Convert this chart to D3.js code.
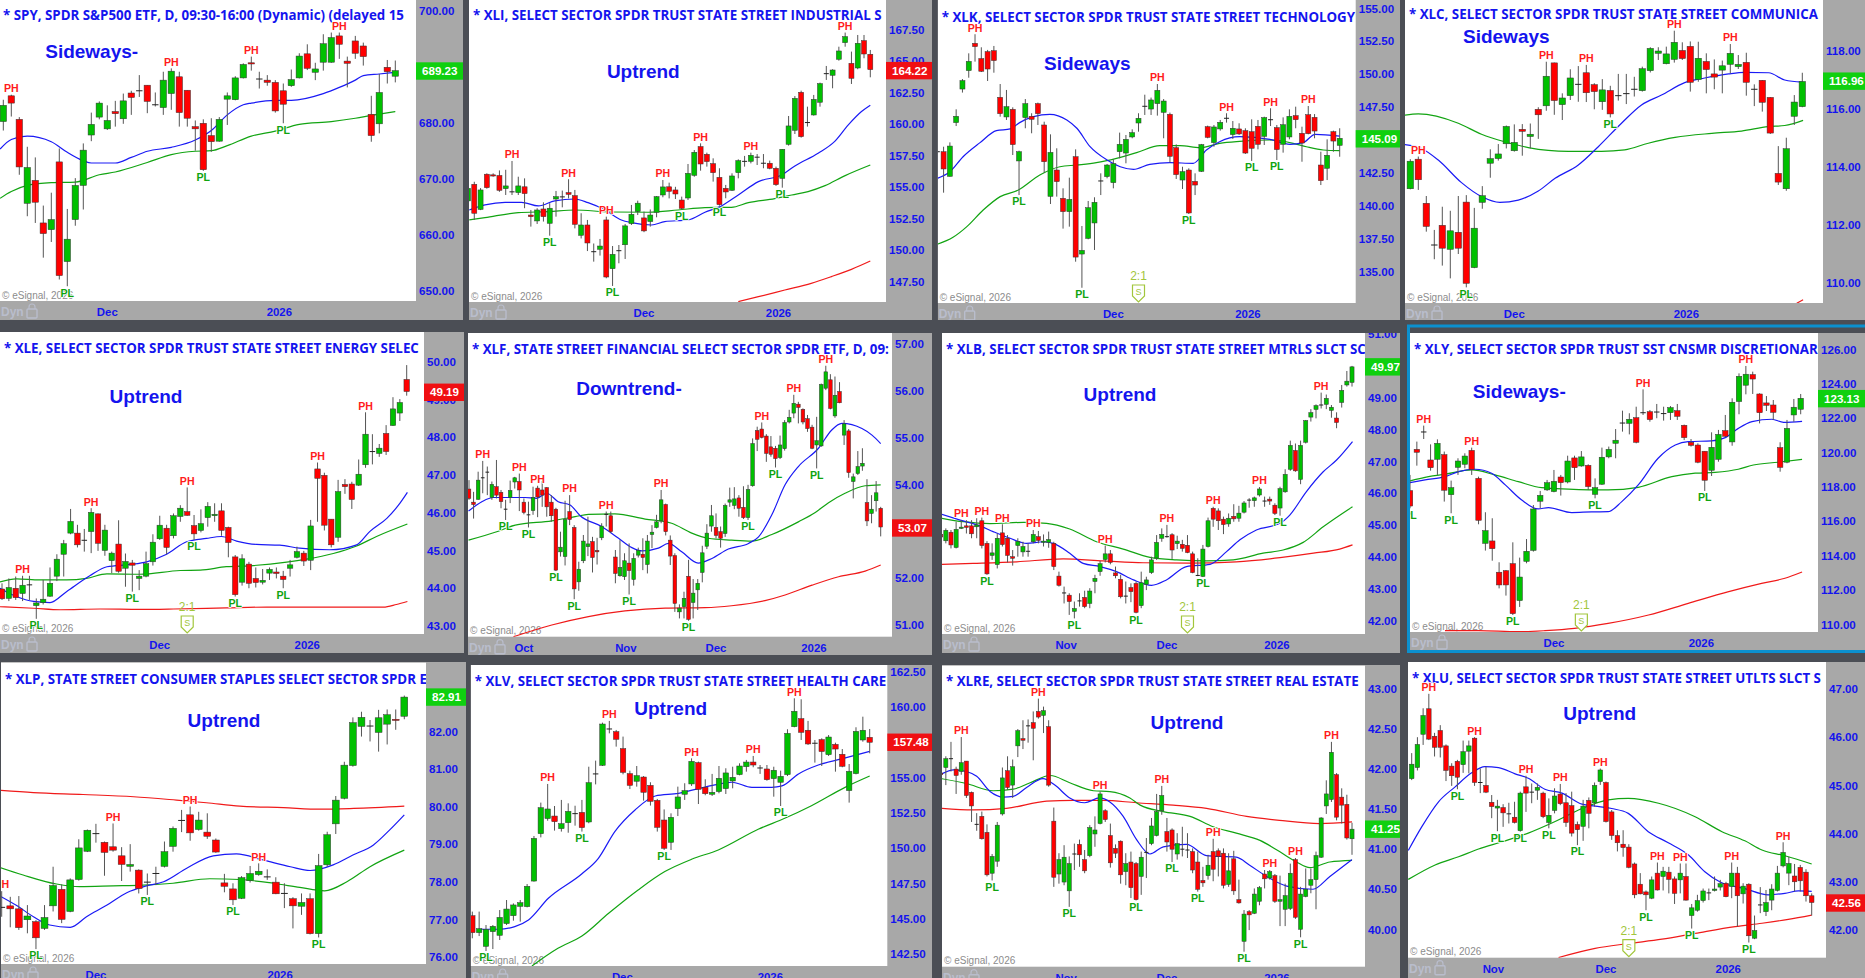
<!DOCTYPE html>
<html><head><meta charset="utf-8">
<style>html,body{margin:0;padding:0;background:#4b4e55;overflow:hidden}svg{display:block}</style>
<script src="https://cdn.jsdelivr.net/npm/d3@7"></script></head><body><svg id="c" width="1865" height="978"></svg>
<script>
// Every candle row is [open, high, low, close]
const spyCandles=[[680.2,684.1,678.6,683.1],[684.8,685,681.1,683.5],[680.6,681,670.7,672.1],[665.6,675.7,663.3,672],[669.7,673.8,662.1,665.8],[662.1,665.2,655.9,660.2],[660.9,667.5,658.7,662.7],[673,675.4,652,652.7],[655.2,664.6,650.8,659.2],[662.7,670.1,661.6,668.8],[668.8,676.3,664.5,675.1],[677.8,681.8,676.7,679.7],[681,683.8,680.6,683.5],[678.9,683.1,678.7,680.4],[682,683.9,679.3,681.6],[680.7,685.2,679.8,683.9],[685.3,685.7,681.4,684.5],[685.7,688.5,684.6,685.7],[686.7,686.7,681.7,683.8],[683.2,685.4,682.9,683.2],[682.7,689.1,681.4,687.6],[685.2,689.7,682.3,689.2],[688.2,689.1,679.3,681.8],[685.8,685.8,679.3,680.8],[679.3,680.4,675,678.9],[679.9,680.6,671.4,671.6],[677.7,680.8,674.8,676.6],[676.7,681,676.6,680.6],[684.2,685.4,679.6,684.8],[684.1,688.3,684,688],[688,690.6,687.9,690.4],[690.7,691.8,689.3,690.5],[687.8,689.1,686.1,687.8],[687.6,688.5,686.6,687.2],[687.2,687.6,681.8,682.1],[685.7,687,679.9,683.3],[686.6,689.5,686.4,687.7],[688,692.4,687.9,691.9],[692.3,694,689.4,689.7],[689,690.7,687.6,689.6],[690.8,695.8,689.3,694.1],[690.8,696.1,690.7,695.2],[695.5,696.1,691.4,694],[691,691.8,686.3,690.6],[694.6,695.5,691.4,692.4],[693.7,694.3,690.2,691.8],[681.5,684.8,676.6,677.7],[679.8,688.7,678.1,685.4],[689.9,691.2,687,689.1],[688.3,691.1,687.2,689.3]];
const spyPH=[1,21,31,42],spyPL=[8,25,35];
const spyBlue=[[-.4,675.3],[1,677],[3,677.6],[6,676.6],[7.9,674.8],[10,673.2],[11,672.8],[14,672.8],[16,673.8],[18,674.9],[21,675.6],[24,676.9],[26,678.6],[28,681.4],[30,683.2],[31,683.5],[34,684],[36,684],[40,685.2],[42,686.3],[44,687.6],[45,688.4],[47,688.7],[49,689]];
const spyGreen=[[-.4,666.5],[1,667.7],[3,668.8],[6,669.3],[9,669.4],[12,670.7],[14,671.2],[18,672.9],[21,674.3],[24,674.9],[26,675],[28,675.9],[31,677.6],[34,678.5],[37,679.7],[41,680.2],[44,680.8],[46,681.3],[49,682]];
const xliCandles=[[153.88,154.95,153.75,154.88],[155.2,155.4,152.37,152.9],[153.2,154.9,153.15,154.75],[156,156.07,154.85,154.93],[155.95,156.07,155.8,155.9],[155.9,156.3,154.6,154.72],[154.85,156.35,154.35,155.07],[154.6,157.05,154.35,154.6],[154.54,155.8,154.35,155.07],[155,155.67,153.3,154.46],[152.76,153.16,151.84,152.63],[152.29,153.3,152.05,153.16],[153.24,153.77,152.24,152.63],[152.1,153.7,151.12,153.3],[154.03,154.67,152.63,154.22],[154.2,154.7,153.37,154.2],[154.54,155.6,154.08,154.4],[154.3,154.75,151.7,152.02],[151.15,152.9,150.9,151.97],[151.97,152.37,149.9,150.54],[149.85,150.5,149.06,149.85],[150.04,150.86,149.54,150.3],[152.37,152.63,147.74,147.84],[148.5,150.3,147.13,149.64],[149.93,150.38,148.93,149.93],[150.4,152.05,149.27,151.9],[152.08,153.56,151.97,152.82],[153.03,153.9,152.76,153.7],[152.53,153.03,151.4,151.5],[152.24,153.2,151.84,152.76],[152.98,154.27,152.58,154.22],[154.35,155.54,154.17,154.99],[155,155.33,154.08,154.64],[154.75,155,154.03,154.43],[153.95,154.22,153.2,153.29],[154.11,156.81,153.95,156.07],[155.91,157.92,155.8,157.74],[158.19,158.45,156.28,156.81],[157.58,157.71,156.6,157],[156.84,157.26,155.41,156.12],[155.75,156.47,153.5,153.58],[154.88,155.15,154.09,154.59],[154.72,156.07,154.67,155.86],[156.12,157.18,155.67,157.08],[157.02,157.45,156.6,157.02],[157.02,157.71,156.86,157.5],[157.35,157.6,156.73,157.35],[156.87,157.6,156.47,156.87],[156.87,157.08,156.39,156.47],[156.47,156.6,155.07,155.17],[155.67,158,154.93,157.98],[158.37,160.62,158.27,159.83],[159.48,162.2,159.19,162.02],[162.5,162.63,158.9,158.98],[160.1,161.36,159.78,160.1],[160.7,162.29,160.65,161.94],[161.71,163.27,161.36,163.19],[163.98,164.59,163.48,163.98],[163.85,164.33,162.82,164.27],[165.12,166.12,165.01,165.78],[166.44,167.24,166.12,166.92],[164.8,165.73,163.16,163.61],[164.43,167.05,164.33,166.39],[166.6,167.05,165.2,165.54],[165.52,165.86,163.69,164.3]];
const xliPH=[7,16,22,31,37,45,60],xliPL=[13,23,34,40,50];
const xliBlue=[[.2,153.16],[2.7,153.56],[5.9,153.77],[8.5,153.77],[11.2,153.48],[13.8,153.88],[17,154.03],[19.1,153.74],[21.8,153.16],[24.4,152.37],[26,152.16],[29.2,151.97],[31.3,152.24],[35,152.37],[37.7,152.98],[40.3,153.48],[43,154.35],[46.2,155.41],[49.9,155.94],[52,156.65],[55.7,157.66],[58.3,158.58],[60.5,159.91],[62.6,160.97],[64,161.47]];
const xliGreen=[[.2,152.37],[2.7,152.55],[8,152.95],[12.8,153.03],[17,153.16],[22.8,153],[28.7,152.98],[33.4,153.16],[37.7,153.35],[41.9,153.37],[44.6,153.74],[48.8,154.06],[51.5,154.35],[54.1,154.62],[56.8,155.09],[60,155.89],[64,156.73]];
const xliRed=[[43,145.89],[46.2,146.28],[50.4,146.81],[54.6,147.34],[57.8,147.87],[61,148.45],[64,149.11]];
const xlkCandles=[[144.11,144.2,144,144.11],[144.11,144.49,141,142.8],[142.24,144.82,142.22,144.54],[146.32,147.33,146.06,146.8],[148.87,149.63,148.6,149.51],[150.27,151.58,149.73,150.97],[152.34,153.03,150.95,152.09],[151.18,152.04,150.16,150.22],[151.71,151.84,149.48,150.39],[151.78,152.14,150.11,151.03],[148.24,149.25,146.77,147],[146.75,148.8,146.52,147.53],[147.33,147.48,143.86,144.65],[143.41,144.19,140.82,144.11],[146.7,148.11,145.89,147.76],[146.8,147.03,145.51,146.57],[147.76,147.84,146.14,147],[146.14,146.39,142.52,143.35],[140.72,145.43,140.14,144.06],[142.72,144.37,140.7,141.84],[140.57,141.33,138.27,139.56],[139.56,142.14,138.42,140.49],[143.73,144.29,135.76,136.11],[136.34,138.47,133.78,136.62],[137.53,140.37,137.46,139.86],[138.7,140.65,136.65,140.27],[141.89,142.47,140.82,141.89],[142.22,143.18,142.09,143.1],[141.76,143.53,141.33,143.2],[144.11,145.56,143.61,144.67],[144.01,145.38,143.23,145.05],[145.23,145.81,145.13,145.56],[146.29,147.03,145.63,146.65],[147.56,148.44,146.9,147.56],[147.35,148.22,146.9,148.04],[147.76,149.25,146.85,148.77],[147.1,148.11,145.13,147.96],[146.95,147.08,143.28,143.76],[144.42,144.67,142.04,142.37],[141.96,142.97,141.28,142.6],[142.72,142.85,139.38,139.46],[141.86,142.47,140.82,141.58],[142.62,144.7,142.57,144.65],[146.01,146.09,145.13,145.2],[144.8,146.14,144.49,145.99],[145.84,146.52,145.71,146.34],[146.65,147.03,146.32,146.65],[145.41,146.44,145.08,145.89],[145.84,146.27,145.38,145.46],[145.71,145.89,143.94,144.01],[145.63,146.57,143.41,144.37],[146.04,146.52,144.29,144.67],[145.28,146.77,144.62,146.7],[146.54,147.41,146.06,146.54],[145.94,146.14,143.48,144.27],[144.67,146.72,144.04,146.16],[145.23,147.33,145.05,146.8],[146.85,147.53,145.89,146.54],[145.51,146.01,143.35,144.77],[146.92,147.58,145.43,145.48],[146.72,146.97,145.13,145.68],[143.1,144.11,141.58,141.91],[142.85,145.05,141.96,143.84],[145.63,145.71,144.11,144.92],[144.59,145.89,143.73,145.13]];
const xlkPH=[6,35,46,53,59],xlkPL=[13,23,40,50,54];
const xlkBlue=[[0,142.09],[2,142.59],[4.1,143.73],[6.8,144.8],[9.4,145.71],[11.6,145.84],[13.1,146.32],[15.3,146.77],[17.9,146.95],[20.6,146.52],[22.2,145.89],[24.3,144.49],[27,143.48],[29.1,142.97],[31.2,142.77],[33.8,143.15],[37,143.28],[40.7,143.23],[42.8,144.24],[44.9,144.87],[48.1,145.25],[52.9,145.05],[56.1,144.67],[58.2,144.8],[60.1,145.43],[64,145.3]];
const xlkGreen=[[0,137.08],[2.5,137.61],[4.7,138.42],[7.3,139.68],[10,140.7],[12.9,141.2],[16.3,142.34],[19.5,142.97],[22.2,143.1],[25.3,143.28],[28.5,143.61],[31.7,144.04],[35.4,144.57],[38.6,144.57],[41.8,144.42],[44.9,144.75],[48.1,144.9],[52.9,145],[56.6,144.75],[58.7,144.49],[61.4,144.24],[64,144.19]];
const xlcCandles=[[113.25,114.27,113.23,114.2],[114.27,114.36,113.21,113.56],[112.75,113,111.77,111.95],[111.31,111.83,110.82,111.31],[111.99,112.63,110.6,111.2],[111.16,112.49,110.16,111.8],[111.75,113,111,111.2],[112.79,113.03,109.85,109.99],[110.53,112.59,110.51,111.89],[112.78,113.34,112.56,113.01],[114.13,114.61,113.63,114.29],[114.29,114.79,114.22,114.45],[114.8,115.43,114.64,115.4],[114.56,115.47,114.53,114.85],[115.3,115.48,114.39,115.23],[115.05,115.5,114.64,115.13],[115.99,116.06,114.97,115.8],[116.11,117.63,115.94,117.13],[117.59,117.6,115.8,116.29],[116.15,116.54,115.62,116.38],[116.46,117.37,116.31,117.07],[116.85,117.48,116.25,116.85],[117.25,117.52,116.24,116.56],[116.84,116.89,115.99,116.6],[116.25,117.03,115.97,116.66],[116.64,116.8,115.71,115.83],[116.46,117.21,116.29,116.46],[116.53,117.21,116.17,116.53],[116.68,117.11,116.43,116.68],[116.63,117.46,116.6,117.39],[117.32,118.13,117.26,118.09],[117.92,118.13,117.69,118],[117.56,118.15,117.54,117.9],[117.71,118.7,117.6,118.3],[118.02,118.3,117.69,117.74],[118.16,118.33,116.6,116.92],[117.02,118.32,116.94,117.75],[117.64,117.92,116.54,117.36],[117.21,117.71,116.68,117.1],[117.34,117.67,116.54,117.49],[117.54,118.24,117.23,117.92],[117.46,117.86,117.38,117.54],[117.61,117.94,116.46,116.92],[116.68,116.85,116.1,116.68],[116.99,117,115.91,116.23],[116.4,116.41,115.14,115.17],[113.78,114.72,113.38,113.48],[113.25,115.01,113.18,114.63],[115.75,116.48,115.45,116.24],[116.08,117.25,116.06,116.95]];
const xlcPH=[1,17,22,33,40],xlcPL=[7,25];
const xlcBlue=[[-.7,114.77],[1.4,114.64],[3.5,114.24],[6.4,113.46],[8.9,112.98],[11.2,112.78],[13.5,112.86],[16,113.17],[18.1,113.61],[21,114.07],[23.5,114.7],[26.4,115.51],[28.9,116.14],[31.4,116.48],[34.3,116.91],[36.8,117.07],[39.8,117.21],[41.8,117.26],[44.8,117.25],[46.8,117],[49,116.93]];
const xlcGreen=[[-.7,115.79],[1,115.83],[6,115.51],[8.9,115.13],[11.8,114.87],[14.75,114.67],[19.75,114.54],[23.9,114.54],[26.8,114.59],[29.75,114.82],[33.1,115.02],[37.7,115.16],[41.4,115.24],[44.75,115.39],[46.8,115.43],[49.1,115.61]];
const xlcRed=[[48.3,109.3],[49.1,109.42]];
const xleCandles=[[43.98,44.13,43.69,43.72],[43.73,44.26,43.66,44.02],[44,44.31,43.69,43.75],[43.86,44.33,43.66,44.08],[44.09,44.33,43.69,44.09],[43.54,43.73,43.19,43.61],[43.62,44.22,43.57,43.71],[43.79,44.55,43.77,44.13],[44.32,44.9,44.19,44.77],[44.9,45.28,44.31,45.18],[45.46,46.1,45.43,45.77],[45.46,45.68,45.08,45.15],[45.27,45.57,44.97,45.27],[45.5,46.12,44.93,46.01],[45.97,45.98,44.99,45.19],[45,45.68,44.86,45.54],[44.73,44.97,44.4,44.93],[45.17,45.8,44.41,44.45],[44.53,44.92,44.04,44.71],[44.67,44.75,43.91,44.61],[44.26,44.48,43.95,44.32],[44.32,44.97,44.29,44.65],[44.7,45.43,44.6,45.22],[45.31,45.92,45.28,45.67],[45.59,45.68,44.9,45.08],[45.39,45.98,45.32,45.92],[45.9,46.2,45.76,46.12],[46.03,46.67,45.92,45.93],[45.66,45.94,45.28,45.44],[45.53,46.09,45.48,45.71],[45.87,46.28,45.63,46.17],[45.92,46.25,45.76,45.96],[46.05,46.25,45.39,45.53],[45.61,45.63,44.82,45.21],[44.83,44.88,43.78,43.83],[44.16,44.9,44.07,44.78],[44.64,44.7,44,44.13],[44.26,44.55,44.02,44.15],[44.16,44.51,44.1,44.21],[44.4,44.55,44.22,44.5],[44.43,44.55,44.26,44.39],[44.32,44.46,44,44.23],[44.53,44.75,44.31,44.62],[44.82,45.1,44.79,44.97],[44.93,44.99,44.59,44.72],[44.74,45.81,44.48,45.65],[47.16,47.33,45.76,46.91],[46.99,47.06,45.53,45.67],[45.83,45.83,45.08,45.15],[45.35,46.87,45.23,46.56],[46.75,46.89,46.5,46.69],[46.76,46.82,46.1,46.35],[46.73,47.41,46.71,47.02],[47.27,48.66,47.19,48.08],[47.62,48.08,47.28,47.62],[47.57,47.82,47.48,47.71],[48.1,48.32,47.53,47.62],[48.31,49.06,48.3,48.75],[48.64,49.01,48.43,48.92],[49.53,49.91,49.1,49.21]];
const xlePH=[3,13,27,46,53],xlePL=[5,19,28,34,41];
const xleBlue=[[-.3,44],[2.1,43.78],[4.6,43.65],[7,43.62],[9.4,43.91],[12.8,44.33],[15.3,44.57],[18.7,44.63],[21.1,44.7],[24,44.9],[26.9,45.23],[29.8,45.32],[32,45.37],[34.2,45.25],[37.1,45.16],[40.5,45.14],[43.4,45.06],[47.8,45.02],[51.7,45.15],[53.6,45.5],[56.1,45.85],[57.8,46.2],[59.1,46.54]];
const xleGreen=[[-.3,44.17],[2.1,44.25],[5.5,44.22],[9.4,44.22],[12.3,44.26],[15.3,44.38],[20.1,44.37],[26,44.47],[28.9,44.48],[32.7,44.57],[36.6,44.6],[41.5,44.69],[44.4,44.77],[48.3,44.92],[51.7,45.12],[54.6,45.37],[59.1,45.7]];
const xleRed=[[-.3,43.51],[4.6,43.47],[8.5,43.43],[14.3,43.45],[20.1,43.44],[25,43.45],[32.7,43.48],[38.6,43.5],[46.8,43.5],[55.6,43.5],[57.5,43.57],[59.1,43.65]];
const xlfCandles=[[53.9,54.09,53.67,53.7],[53.62,53.84,53.27,53.57],[53.68,54.27,53.67,54.09],[54.14,54.5,53.81,54.14],[54.26,54.38,53.77,54.26],[53.72,54.06,53.67,54],[53.95,54.52,53.7,53.77],[53.83,53.88,53.49,53.63],[53.47,53.67,53.24,53.47],[53.72,54.08,53.6,53.87],[54.05,54.16,53.91,54.14],[54.06,54.23,53.43,53.88],[53.62,53.7,53.36,53.4],[53.35,53.63,53.08,53.35],[53.44,53.95,53.35,53.72],[53.92,53.97,53.3,53.73],[53.88,54.07,53.52,53.77],[53.93,53.94,53.31,53.52],[53.62,53.77,53.2,53.33],[53.47,53.5,52.15,52.17],[52.56,52.99,52.46,52.66],[52.46,53.65,52.27,53.25],[53.42,53.77,53.13,53.25],[53.08,53.13,51.55,51.77],[51.92,52.35,51.73,52.19],[52.37,52.92,52.32,52.79],[52.67,53.31,52.47,52.73],[52.78,52.88,52.12,52.44],[52.59,52.86,52.29,52.56],[52.86,53.17,52.81,53.11],[53.36,53.42,53.1,53.36],[53.33,53.42,52.96,52.99],[52.45,52.6,51.89,52.1],[52.05,52.81,52.03,52.23],[52.03,52.53,51.96,52.37],[52.32,52.74,51.65,52.16],[51.97,52.53,51.84,52.42],[52.49,52.65,52.44,52.59],[52.51,52.85,52.17,52.44],[52.29,52.92,52.1,52.79],[52.93,53.13,52.64,52.98],[53.08,53.35,53.06,53.2],[53.22,53.88,53.17,53.67],[53.57,53.59,52.91,52.99],[52.81,52.91,52.28,52.47],[52.48,52.53,51.28,51.46],[51.28,51.44,51.14,51.36],[51.39,51.71,51.14,51.57],[52.04,52.39,51.09,51.12],[51.48,51.98,51.14,51.68],[51.75,51.98,51.32,51.89],[52.12,52.69,51.91,52.54],[52.68,53.15,52.62,52.96],[53.11,53.56,52.99,53.33],[53.08,53.38,52.85,52.91],[52.99,53.1,52.65,52.85],[52.95,53.59,52.88,53.55],[53.62,53.93,53.52,53.67],[53.55,53.94,53.47,53.69],[53.71,53.77,53.31,53.49],[53.51,53.96,53.26,53.29],[53.29,53.99,53.24,53.89],[53.97,54.98,53.95,54.87],[55.15,55.23,54.71,54.96],[55.18,55.32,54.98,55],[55.03,55.07,54.48,54.66],[54.8,55.03,54.59,54.64],[54.77,54.82,54.36,54.55],[54.57,55.04,54.54,54.84],[54.76,55.37,54.72,55.32],[55.33,55.59,55.3,55.43],[55.52,55.91,55.41,55.73],[55.71,55.76,55.3,55.64],[55.6,55.62,55.28,55.33],[55.4,55.48,55.12,55.19],[55.22,55.27,54.75,54.77],[54.84,55.44,54.34,54.93],[54.82,56.15,54.8,56.13],[56.05,56.53,56.01,56.4],[56.23,56.35,55.6,55.62],[55.46,56.3,55.42,55.9],[55.98,56.18,55.73,55.74],[55.05,55.37,54.84,55.29],[55.14,55.18,54.14,54.25],[54.06,54.23,53.7,54.16],[54.23,54.71,54.2,54.38],[54.39,54.77,54.29,54.45],[53.61,54.11,53.11,53.22],[53.38,53.77,53.17,53.47],[53.65,54.07,53.42,53.82],[53.49,53.52,52.89,53.09]];
const xlfPH=[3,11,15,22,30,42,64,71,78],xlfPL=[8,13,19,23,35,48,61,67,76];
const xlfBlue=[[-.1,53.43],[2.8,53.63],[5.3,53.72],[8.6,53.72],[12.2,53.72],[14.8,53.7],[17,53.81],[19.5,53.63],[22.1,53.56],[24.3,53.33],[29,53.1],[32.7,52.85],[35.6,52.65],[37.8,52.58],[41.4,52.64],[43.6,52.74],[46.5,52.56],[50.1,52.32],[53.1,52.42],[56.7,52.62],[61.1,52.74],[63.3,52.88],[66.2,53.35],[69.1,53.99],[72,54.38],[76.4,54.77],[79.3,55.16],[81.5,55.3],[85.9,55.19],[88.1,55.05],[90,54.87]];
const xlfGreen=[[-.1,52.81],[6.4,53],[10.1,53.13],[18.1,53.22],[23.2,53.31],[26.1,53.36],[31.9,53.37],[38.5,53.26],[44.3,53.17],[48.7,52.96],[52.3,52.85],[57.4,52.81],[61.8,52.79],[66.2,52.93],[72,53.2],[75.7,53.4],[78.6,53.61],[82.2,53.81],[86.6,53.97],[90,53.99]];
const xlfRed=[[9.7,50.75],[18.1,51],[26.1,51.18],[34.1,51.3],[42.9,51.36],[51.6,51.37],[57.4,51.41],[64.7,51.52],[69.1,51.64],[75,51.85],[80.8,52.03],[86.6,52.15],[90,52.28]];
const xlbCandles=[[44.7,44.84,44.58,44.62],[44.5,44.89,44.42,44.83],[44.77,44.84,44.26,44.37],[44.29,45.1,44.26,44.86],[44.89,45.15,44.87,44.93],[44.97,45.15,44.73,44.92],[44.97,45.15,44.58,44.72],[44.94,45.21,44.58,45],[45.13,45.23,44.26,44.35],[44.42,44.49,43.43,43.46],[44.04,44.42,43.9,44.12],[43.75,44.73,43.63,44.58],[44.75,45.02,44.32,44.38],[44.58,44.68,43.82,44.04],[44,44.21,43.72,43.95],[44.35,44.58,44,44.48],[44.15,44.47,44,44.32],[44.17,44.42,44,44.17],[44.47,44.84,44.42,44.7],[44.63,44.81,44.42,44.51],[44.45,44.7,44.32,44.49],[44.45,44.79,44.28,44.54],[44.42,44.47,43.58,43.69],[43.39,43.53,43.06,43.1],[42.86,43.06,42.53,42.86],[42.79,42.85,42.17,42.59],[42.28,42.59,42.06,42.37],[42.61,42.85,42.43,42.61],[42.72,42.93,42.38,42.43],[42.53,43.01,42.38,42.92],[43.22,43.43,42.85,43.32],[43.53,43.87,43.4,43.78],[43.91,44.35,43.82,44.09],[44.09,44.21,43.76,43.82],[43.49,43.69,43.32,43.4],[43.29,43.43,42.69,42.74],[42.76,43.22,42.53,42.76],[43.03,43.16,42.57,42.9],[43.16,43.22,42.22,42.25],[42.46,43.53,42.38,43.18],[43.13,43.37,42.95,43.27],[43.5,44,43.46,43.9],[43.96,44.68,43.9,44.45],[44.58,44.89,44.47,44.7],[44.63,45,44.6,44.63],[44.69,44.74,43.93,44.21],[44.41,44.66,44.24,44.49],[44.39,44.53,44.16,44.26],[44.36,44.68,44.11,44.13],[44.09,44.16,43.48,43.5],[43.41,43.95,43.39,43.41],[43.38,44.37,43.36,44.24],[44.32,45.23,44.29,45.13],[45.52,45.57,44.94,45.18],[45.44,45.52,44.84,45.13],[45.18,45.26,44.71,45.01],[45.03,45.36,44.94,45.21],[45.27,45.65,45.1,45.19],[45.21,45.6,45.1,45.37],[45.4,45.75,45.36,45.69],[45.78,45.84,45.54,45.78],[45.76,45.89,45.57,45.85],[45.94,46.19,45.89,46.13],[45.75,45.89,45.57,45.75],[45.81,45.89,45.63,45.75],[45.62,45.68,45.31,45.36],[45.53,46.2,45.29,46.14],[46.04,46.75,46.01,46.59],[46.75,47.65,46.7,47.5],[47.34,47.56,46.67,46.7],[46.43,47.65,46.28,47.5],[47.6,48.3,47.56,48.28],[48.39,48.64,48.25,48.53],[48.63,48.79,48.35,48.75],[48.77,49.16,48.66,48.77],[48.79,49.1,48.64,48.98],[48.6,48.77,48.37,48.7],[48.36,48.54,48.04,48.22],[48.85,49.4,48.69,49.23],[49.4,49.84,49.35,49.52],[49.48,50,49.35,49.97]];
const xlbPH=[4,8,12,18,32,44,53,62,74],xlbPL=[9,26,38,51,66];
const xlbBlue=[[.2,45.33],[3.8,45.15],[7.6,44.97],[10.2,44.79],[13.5,44.58],[16.7,44.42],[20,44.47],[21.9,44.42],[25.1,44.11],[27.7,43.79],[31,43.69],[34.2,43.53],[37.5,43.27],[41,43.1],[43.9,43.27],[47.8,43.69],[52.4,43.76],[55.6,44.16],[58.2,44.53],[61.4,44.84],[66,45.05],[67.9,45.31],[71.1,46.04],[74.4,46.67],[77,47.04],[80.1,47.62]];
const xlbGreen=[[.2,45.21],[4.4,45.1],[9.6,45.04],[16.1,45.08],[20.6,45.05],[25.1,44.87],[30.3,44.47],[35.5,44.24],[40.7,43.98],[45.9,43.9],[51.7,43.87],[56.9,43.9],[62.7,44.11],[66.6,44.21],[70.5,44.45],[74.4,44.94],[80.1,45.57]];
const xlbRed=[[.2,43.76],[6.3,43.79],[14.8,43.84],[23.8,43.93],[31.6,43.87],[39.4,43.81],[48.5,43.8],[57.5,43.84],[66,43.97],[72.5,44.11],[77.6,44.24],[80.1,44.37]];
const xlyCandles=[[117.78,118.69,116.75,116.88],[120.18,120.63,119.23,120.01],[121.19,121.56,120.78,121.19],[119.56,120.47,118.94,119.11],[119.6,120.76,118.69,120.53],[119.87,120.05,117.14,117.8],[117.54,118.36,116.46,117.95],[119.13,119.66,118.69,119.5],[119.31,119.95,119.08,119.79],[120.12,120.28,118.69,119.02],[118.49,118.59,115.82,116.05],[114.71,116.52,114.29,115.45],[114.85,116.17,113.7,114.4],[113.03,113.61,112.09,112.29],[113.12,113.16,111.67,112.29],[113.53,114.77,110.54,110.62],[111.38,113.88,111.01,112.75],[113.66,114.96,113.55,114.25],[114.3,116.94,114.23,116.71],[117.16,117.76,116.75,117.5],[117.82,118.4,117.76,118.24],[117.72,118.98,117.68,118.32],[118.57,118.69,117.49,118.24],[118.28,119.81,118.2,119.5],[119.68,119.81,118.4,119.11],[119.21,120.08,119.17,119.74],[119.25,119.31,117.82,118.01],[117.56,118.49,117.33,117.95],[118.15,120.28,118.11,119.72],[119.74,120.34,119.66,120.18],[120.53,121.36,119.66,120.71],[121.71,122.43,121.21,121.71],[121.69,122.28,121.05,121.93],[122.02,122.66,120.53,120.59],[122.31,123.67,122.18,122.31],[122.37,122.47,121.79,121.91],[122.35,122.82,121.99,122.35],[122.26,122.66,121.85,122.26],[122.31,122.7,121.89,122.61],[122.43,122.82,121.89,122.1],[121.58,121.62,120.72,120.86],[120.59,120.78,120.34,120.41],[120.43,120.53,119.37,119.43],[120.07,120.08,117.76,118.38],[118.96,121.17,118.63,120.3],[119.6,121.31,119.46,121.05],[121.27,122.18,120.88,120.94],[120.61,123.15,120.39,122.92],[122.96,124.6,122.22,124.43],[123.91,125.03,123.38,124.55],[124.53,124.7,123.4,124.27],[123.4,123.44,121.69,122.31],[122.88,123.28,122.41,122.74],[122.76,123.05,121.89,122.33],[120.28,120.59,118.88,119.13],[119.43,121.89,119.37,121.4],[122.18,123.11,121.79,122.63],[122.51,123.4,122.22,123.15]];
const xlyPH=[2,9,34,49],xlyPL=[0,6,15,27,43];
const xlyBlue=[[0,118.24],[2.2,118.4],[5.1,118.59],[7.1,118.88],[9.5,119.02],[11.9,118.79],[13.9,118.11],[16.3,117.23],[18.7,116.71],[20.2,116.79],[23.6,116.5],[26.5,116.54],[28.9,116.55],[30.9,117.14],[33.3,118.11],[36.2,119.66],[38.7,120.43],[40.6,120.63],[44,120.67],[46,120.86],[47.9,121.4],[49.9,121.79],[52.8,121.93],[54.5,121.75],[57.2,121.81]];
const xlyGreen=[[0,118.34],[2.7,118.59],[5.1,118.73],[9,118.98],[12.4,118.69],[15.8,118.3],[19.2,117.95],[23.1,117.87],[28.9,117.82],[33.3,117.97],[38.2,118.59],[41.6,118.79],[44.5,118.84],[47.9,119.02],[50.1,119.27],[53.7,119.43],[57.2,119.6]];
const xlyRed=[[5.1,109.63],[10,109.63],[15.8,109.57],[19.7,109.63],[24,109.76],[28.9,110.05],[34.8,110.54],[40.6,111.22],[46.5,111.9],[51.3,112.38],[54.7,112.68],[57.2,113.04]];
const xlpCandles=[[77.32,77.75,77.07,77.32],[77.36,77.6,76.79,77.28],[77.28,77.62,76.72,76.78],[76.99,77.38,76.63,77.09],[76.94,76.98,76.21,76.51],[76.76,77.38,76.72,77.05],[77.36,78.4,77.21,77.9],[77.8,77.93,76.9,77],[77.21,78.09,77.19,78.05],[78.06,79.13,78.03,78.9],[78.81,79.39,78.79,79.37],[79.28,79.54,79.04,79.28],[79.05,79.07,78.16,78.78],[78.93,79.55,78.8,78.84],[78.69,78.92,78.02,78.46],[78.41,79,78.27,78.46],[78.31,78.33,77.69,77.82],[77.99,78.22,77.65,77.99],[78.22,78.4,77.91,78.22],[78.41,79.07,78.38,78.8],[78.94,79.47,78.8,79.42],[79.63,79.91,79.32,79.63],[79.78,80,79.09,79.3],[79.39,79.86,79.36,79.64],[79.32,79.82,79.14,79.21],[79.11,79.15,78.77,78.79],[77.97,78.21,77.72,77.88],[77.81,77.96,77.38,77.52],[77.56,78.15,77.54,78.11],[78.03,78.42,77.98,78.22],[78.19,78.49,78.16,78.28],[78.13,78.33,78.05,78.13],[77.99,78.12,77.67,77.68],[77.69,77.96,77.3,77.69],[77.55,77.59,76.76,77.36],[77.35,77.69,77.12,77.45],[77.55,77.69,76.6,76.62],[76.62,78.74,76.52,78.43],[78.45,79.33,78.4,79.25],[79.54,80.28,79.27,80.17],[80.22,81.19,80.19,81.1],[81.09,82.37,81.06,82.23],[82.13,82.52,81.86,82.37],[82.14,82.3,81.73,82.14],[81.97,82.57,81.46,82.36],[82.19,82.58,81.65,82.44],[82.32,82.58,82.04,82.3],[82.4,82.95,82.32,82.91]];
const xlpPH=[0,13,22,30],xlpPL=[4,17,27,37];
const xlpBlue=[[-.2,77.62],[1.8,77.36],[3.7,77.07],[5.6,76.85],[8,76.79],[9.9,77.07],[12.3,77.38],[14.6,77.71],[16.9,77.89],[18.9,78],[21.6,78.36],[24.7,78.69],[27.4,78.74],[30.5,78.58],[33.7,78.4],[36,78.3],[38.7,78.45],[41,78.71],[43.4,78.98],[45.3,79.38],[47,79.78]];
const xlpGreen=[[-.2,78.38],[2.5,78.18],[6.4,77.94],[9.1,77.87],[13,77.89],[16.5,77.91],[20,77.96],[24.3,78.08],[27.8,78.06],[31.7,77.96],[34.8,77.85],[37.7,77.76],[40.3,78],[43,78.4],[47,78.84]];
const xlpRed=[[-.2,80.43],[3.7,80.37],[9.5,80.32],[15.4,80.26],[20.4,80.17],[23.9,80.1],[27.8,80.01],[32.9,79.97],[37.2,79.93],[41.1,79.95],[47,80.01]];
const xlvCandles=[[145.21,145.5,143.61,144.01],[144.01,145.5,143.77,144.29],[143.04,144.55,142.71,144.25],[144.08,144.55,142.85,144.46],[143.82,145.61,143.49,145.09],[144.65,146.32,144.55,145.68],[145.21,146.08,144.86,145.97],[145.87,146.32,144.79,146.13],[145.85,147.45,145.8,147.29],[147.66,150.85,147.62,150.68],[151.01,153.21,150.75,152.85],[152.08,154.53,151.93,152.76],[152.26,152.97,151.23,151.86],[151.37,153.4,151.16,151.72],[151.79,153.16,151.08,152.59],[152.43,152.99,151.58,152.43],[152.52,153.4,151.16,151.44],[151.84,155.75,151.75,154.62],[155.24,156.18,154.5,155.24],[155.85,158.87,155.8,158.77],[158.42,158.99,158.11,158.42],[158.23,158.35,157.17,157.69],[157.03,157.88,155.21,155.35],[155.26,155.47,154.17,154.43],[154.72,155.8,154.34,155.12],[155.02,155.09,153.35,153.94],[154.43,154.65,153,153.3],[153.37,153.47,151.16,151.46],[151.98,152.73,149.86,149.98],[150.4,152.45,149.86,152.17],[152.78,154.34,152.26,153.61],[153.8,154.58,153.4,154.06],[154.53,156.34,154.39,156.13],[156.04,156.11,153.11,154.15],[154.29,154.86,153.73,153.84],[153.8,155.24,153.68,153.94],[153.99,155.8,153.87,154.93],[154.2,155.64,153.82,155.31],[154.74,155.75,154.22,155],[155.19,155.99,155.14,155.8],[155.75,156.23,155.4,156.08],[156.08,156.51,155.71,155.87],[155.66,155.87,155.24,155.66],[155.59,155.87,154.76,154.83],[154.91,155.75,153.63,155.5],[154.65,155.47,152.97,155.07],[155.19,158.4,155.09,158.11],[158.58,160.59,158.54,159.67],[159.15,160.52,157.64,158.18],[158.33,158.99,157.29,157.36],[157.41,157.64,156.04,157.41],[157.67,157.76,155.8,156.82],[156.6,157.99,156.51,157.85],[157.33,157.45,155.4,157],[156.63,157,155.71,155.78],[154.06,155.94,153.21,155.42],[155.26,158.54,155.21,158.25],[157.64,159.29,157.52,158.33],[157.83,158.42,156.7,157.48]];
const xlvPH=[11,20,32,41,47],xlvPL=[2,16,28,45];
const xlvBlue=[[.9,144.25],[3.8,144.25],[6.2,144.44],[8.2,144.91],[11.1,146.44],[15.96,148.16],[18.4,149.27],[20.8,151.16],[23.75,152.69],[26.7,153.68],[30.1,153.87],[33,154.2],[35.4,154.46],[37.9,154.65],[40.8,154.29],[43.7,154.29],[45.2,154.39],[47.6,155.24],[50.5,155.87],[53.9,156.3],[58,156.84]];
const xlvGreen=[[8.7,141.65],[12.5,142.9],[16,143.77],[19.9,145.38],[24.2,147.03],[28.1,148.33],[32,149.2],[35.9,149.86],[41.8,151.34],[45.6,152.1],[49.5,152.99],[54.4,154.29],[58,155.09]];
const xlreCandles=[[41.95,41.97,41.92,41.93],[42.02,42.16,41.8,42.13],[42.13,42.34,41.97,42.13],[42,42.03,41.69,41.92],[41.97,42.4,41.93,42.08],[42.1,42.1,41.64,41.67],[41.71,41.72,41.34,41.54],[41.31,41.45,41.23,41.31],[41.41,41.47,41.12,41.13],[41.21,41.31,40.66,40.68],[40.7,40.94,40.61,40.91],[40.85,41.34,40.78,41.3],[41.44,42.02,41.42,41.89],[41.98,42.16,41.74,41.77],[41.8,42.12,41.64,42.03],[42.29,42.5,42.15,42.48],[42.38,42.61,42.25,42.36],[42.54,42.62,42.33,42.54],[42.58,42.72,42.11,42.51],[42.72,42.88,42.63,42.65],[42.67,42.78,42.45,42.73],[42.53,42.61,41.78,41.8],[41.35,41.52,40.53,40.65],[40.69,40.95,40.57,40.87],[40.59,41.05,40.55,40.9],[40.48,40.91,40.28,40.82],[40.94,41.07,40.74,40.94],[41.06,41.12,40.78,40.93],[40.87,40.99,40.7,40.73],[40.92,41.3,40.9,41.27],[41.19,41.41,41.03,41.24],[41.32,41.72,41.31,41.69],[41.48,41.5,41.34,41.37],[41.17,41.32,40.77,40.83],[41.01,41.06,40.89,40.95],[41.1,41.11,40.57,40.68],[40.72,40.95,40.55,40.82],[40.84,40.97,40.39,40.52],[40.82,40.84,40.36,40.37],[40.66,40.97,40.43,40.9],[40.96,41.14,40.64,40.96],[41.07,41.39,41.05,41.29],[41.17,41.69,41.16,41.47],[41.48,41.79,41.43,41.67],[41.22,41.39,40.97,41.09],[41.24,41.26,40.84,41],[40.94,41.2,40.87,41.07],[41,41.28,40.91,41],[40.99,41.2,40.89,40.99],[40.97,41.01,40.7,40.74],[40.84,40.97,40.47,40.5],[40.61,40.78,40.53,40.58],[40.67,40.93,40.62,40.8],[40.97,41.13,40.6,40.75],[40.98,41.01,40.66,40.91],[40.95,41.01,40.51,40.55],[40.56,40.95,40.53,40.73],[40.88,40.98,40.43,40.48],[40.37,40.62,40.32,40.33],[39.85,40.24,39.72,40.19],[40.22,40.24,39.99,40.18],[40.2,40.51,40.19,40.44],[40.35,40.54,40.3,40.52],[40.69,40.74,40.51,40.63],[40.64,40.74,40.62,40.72],[40.67,40.69,40.33,40.35],[40.35,40.67,40.04,40.37],[40.25,40.57,40.04,40.42],[40.26,40.82,40.24,40.7],[40.87,40.89,40.13,40.15],[40,40.53,39.9,40.44],[40.41,40.76,40.4,40.5],[40.55,40.76,40.45,40.62],[40.62,40.97,40.25,40.92],[40.9,41.4,40.89,41.39],[41.54,41.86,41.44,41.69],[41.62,42.34,41.59,42.21],[41.93,41.95,41.36,41.4],[41.65,41.76,41.32,41.55],[41.56,41.68,41.12,41.14],[41.13,41.33,40.93,41.25]];
const xlrePH=[4,19,31,43,53,64,69,76],xlrePL=[10,25,38,45,50,59,70];
const xlreBlue=[[.2,41.94],[2.5,41.99],[5,41.97],[7,41.91],[9.6,41.72],[12.2,41.65],[14.1,41.66],[16.7,41.77],[19.9,41.88],[22.2,41.8],[25.1,41.64],[28,41.58],[30.9,41.64],[32.9,41.59],[35.5,41.41],[38.1,41.12],[40.7,40.94],[43.3,41.03],[47.8,41.06],[51.7,40.92],[57.5,40.9],[60.1,40.8],[63.4,40.66],[67.3,40.54],[72.4,40.5],[75.7,40.66],[80,40.87]];
const xlreGreen=[[.2,41.88],[5,41.82],[10.2,41.73],[14.1,41.75],[17.4,41.83],[21.3,41.92],[25.1,41.83],[29.7,41.73],[32.9,41.72],[36.8,41.64],[38.8,41.55],[43.3,41.47],[48.5,41.41],[53,41.28],[57.5,41.2],[62.1,41.11],[65.9,40.97],[69.2,40.84],[71.8,40.77],[75.7,40.84],[80,40.86]];
const xlreRed=[[.2,41.51],[6.3,41.49],[12.8,41.51],[20.6,41.6],[25.8,41.61],[31.6,41.61],[38.1,41.58],[45.2,41.55],[51.7,41.51],[59.5,41.41],[65.9,41.36],[73.7,41.32],[80,41.34]];
const xluCandles=[[45.14,45.67,45.11,45.44],[45.37,46,45.31,45.85],[46.06,46.6,45.84,46.45],[46.59,46.9,45.94,45.96],[46.02,46.09,45.6,45.79],[46.14,46.25,45.58,45.79],[45.82,45.85,45.09,45.31],[45.4,45.46,44.99,45.2],[45.5,45.53,44.92,45.17],[45.43,45.93,45.26,45.7],[45.71,45.93,45.25,45.82],[45.98,46,44.99,45.06],[45.06,45.35,44.84,45.06],[45,45.39,44.84,44.86],[44.65,44.8,44.32,44.56],[44.53,44.7,44.05,44.57],[44.54,44.61,44.14,44.43],[44.41,44.64,44.21,44.41],[44.34,44.66,44.21,44.23],[44.06,44.87,44.04,44.84],[44.97,45.2,44.45,44.84],[44.86,45.04,44.63,44.86],[44.9,45.04,44.7,44.96],[44.84,44.87,44.32,44.35],[44.23,44.73,44.11,44.38],[44.48,44.94,44.42,44.78],[44.82,45.03,44.59,44.62],[44.64,44.84,44.14,44.23],[44.58,44.87,43.94,44.01],[44.19,44.25,43.76,44.08],[44.15,44.7,43.85,44.57],[44.69,44.75,44.11,44.42],[44.64,45.06,44.56,45],[45.08,45.35,45.01,45.32],[45.06,45.08,44.23,44.25],[44.45,44.49,43.87,43.96],[43.96,44.07,43.63,43.81],[43.78,44.07,43.52,43.71],[43.72,43.78,43.28,43.3],[43.37,43.4,42.66,42.73],[42.95,43.18,42.74,42.75],[42.79,42.82,42.41,42.73],[42.66,43.11,42.64,43.04],[43.18,43.4,42.82,42.83],[43.11,43.31,42.82,43.22],[43.2,43.31,42.76,43.05],[43.06,43.11,42.54,42.76],[43.04,43.38,42.76,43.18],[43.11,43.38,42.61,42.62],[42.3,42.54,42.03,42.46],[42.41,42.73,42.38,42.61],[42.61,42.86,42.57,42.81],[42.77,42.86,42.62,42.77],[42.82,43.11,42.8,42.85],[42.89,43.04,42.82,42.96],[42.97,43,42.68,42.69],[42.9,43.4,42.66,43.18],[43.18,43.31,42.07,42.71],[42.75,42.97,42.55,42.91],[42.95,42.97,41.74,41.88],[41.83,42.3,41.81,41.99],[42.52,42.89,42.35,42.52],[42.38,42.83,42.29,42.57],[42.62,42.95,42.41,42.85],[42.82,43.33,42.8,43.18],[43.33,43.82,43.3,43.61],[43.18,43.52,42.93,43.38],[43.12,43.37,42.8,43],[43.3,43.35,42.8,43.02],[43.2,43.26,42.59,42.71],[42.71,42.76,42.3,42.57]];
const xluPH=[3,11,20,26,33,43,47,56,65],xluPL=[8,15,19,24,29,41,49,59];
const xluBlue=[[-.6,43.65],[1.75,44.14],[4.7,44.66],[7.6,44.97],[10.5,45.26],[12.8,45.39],[15.2,45.37],[18.1,45.24],[20.4,45.15],[23.3,44.92],[26.3,44.84],[29.8,44.61],[32.1,44.57],[35,44.52],[37.9,44.42],[41.4,44.04],[44.9,43.81],[48.4,43.56],[51.3,43.21],[53.9,43],[58.3,42.86],[62.4,42.73],[65.3,42.76],[67.7,42.81],[70,42.8]];
const xluGreen=[[-.6,43.05],[4.1,43.35],[8.2,43.52],[11.7,43.68],[15.8,43.83],[20.4,44.01],[25.1,44.25],[29.8,44.52],[34.4,44.7],[37.9,44.73],[43.2,44.63],[49.6,44.35],[54.3,44.04],[58.3,43.85],[61.3,43.66],[65.3,43.54],[70,43.37]];
const xluRed=[[25.7,41.43],[32.1,41.62],[38,41.72],[43.8,41.81],[49.6,41.93],[56.6,42.07],[61.3,42.14],[65.9,42.22],[70,42.31]];

const titles=["* SPY, SPDR S&P500 ETF, D, 09:30-16:00 (Dynamic) (delayed 15","* XLI, SELECT SECTOR SPDR TRUST STATE STREET INDUSTRIAL S","* XLK, SELECT SECTOR SPDR TRUST STATE STREET TECHNOLOGY","* XLC, SELECT SECTOR SPDR TRUST STATE STREET COMMUNICA","* XLE, SELECT SECTOR SPDR TRUST STATE STREET ENERGY SELEC","* XLF, STATE STREET FINANCIAL SELECT SECTOR SPDR ETF, D, 09:","* XLB, SELECT SECTOR SPDR TRUST STATE STREET MTRLS SLCT SC","* XLY, SELECT SECTOR SPDR TRUST SST CNSMR DISCRETIONAR","* XLP, STATE STREET CONSUMER STAPLES SELECT SECTOR SPDR E","* XLV, SELECT SECTOR SPDR TRUST STATE STREET HEALTH CARE","* XLRE, SELECT SECTOR SPDR TRUST STATE STREET REAL ESTATE","* XLU, SELECT SECTOR SPDR TRUST STATE STREET UTLTS SLCT S"];
const trends=["Sideways-","Uptrend","Sideways","Sideways","Uptrend","Downtrend-","Uptrend","Sideways-","Uptrend","Uptrend","Uptrend","Uptrend"];
const lastPrices=[689.23,164.22,145.09,116.96,49.19,53.07,49.97,123.13,82.91,157.48,41.25,42.56];
const lastUp=[1,0,1,1,0,0,1,1,1,0,1,0];
const tickSets=[d3.range(650,701,10),d3.range(147.5,168,2.5),d3.range(135,156,2.5),d3.range(110,119,2),d3.range(43,51),d3.range(51,58),d3.range(42,52),d3.range(110,127,2),d3.range(76,83),d3.range(142.5,163,2.5),d3.range(40,43.1,.5),d3.range(42,48)];
const dateLabels=[[["Dec",13],["2026",34.5]],[["Dec",28],["2026",49.4]],[["Dec",28],["2026",49.4]],[["Dec",13],["2026",34.5]],[["Dec",23],["2026",44.5]],[["Oct",12],["Nov",34.3],["Dec",54],["2026",75.4]],[["Nov",24.4],["Dec",44],["2026",65.4]],[["Dec",21],["2026",42.5]],[["Dec",11],["2026",32.5]],[["Dec",21.9],["2026",43.5]],[["Nov",24.4],["Dec",44],["2026",65.4]],[["Nov",14.3],["Dec",34],["2026",55.4]]];
const signalIdx=[null,null,32,null,27,null,48,25,null,null,null,38];
const candleSets=[spyCandles,xliCandles,xlkCandles,xlcCandles,xleCandles,xlfCandles,xlbCandles,xlyCandles,xlpCandles,xlvCandles,xlreCandles,xluCandles];
const phSets=[spyPH,xliPH,xlkPH,xlcPH,xlePH,xlfPH,xlbPH,xlyPH,xlpPH,xlvPH,xlrePH,xluPH];
const plSets=[spyPL,xliPL,xlkPL,xlcPL,xlePL,xlfPL,xlbPL,xlyPL,xlpPL,xlvPL,xlrePL,xluPL];
const blueSets=[spyBlue,xliBlue,xlkBlue,xlcBlue,xleBlue,xlfBlue,xlbBlue,xlyBlue,xlpBlue,xlvBlue,xlreBlue,xluBlue];
const greenSets=[spyGreen,xliGreen,xlkGreen,xlcGreen,xleGreen,xlfGreen,xlbGreen,xlyGreen,xlpGreen,xlvGreen,xlreGreen,xluGreen];
const redSets=[null,xliRed,null,xlcRed,xleRed,xlfRed,xlbRed,xlyRed,xlpRed,null,xlreRed,xluRed];

// layout only: plot box [left,right,top,bottom], panel [top,stripBottom,axisRight], first/last candle px, two tick calibrations, title y, trend label centre
const layout=[
{b:[0,416,0,301],p:[0,320,463],x:[3.3,395.3],y:[[650,290.7],[700,10.7]],ty:14.5,tr:[91.7,50.7],tx:3},
{b:[469,886,0,302],p:[0,320,932],x:[468,870.3],y:[[147.5,281.3],[167.5,29.3]],ty:15,tr:[643.3,70.7]},
{b:[937.7,1355.7,0,303],p:[0,320,1400],x:[937.3,1339.7],y:[[135,271.7],[155,8.3]],ty:16.7,tr:[1087.3,63.3]},
{b:[1405,1823,0,303],p:[0,320,1865],x:[1410.3,1802.3],y:[[110,283],[118,51]],ty:13.3,tr:[1506.3,35.7]},
{b:[0,424,332,634],p:[332,653,464],x:[2,406.7],y:[[43,626],[50,361.7]],ty:347.7,tr:[146,396.3]},
{b:[468,892,333,636.7],p:[333,655,932],x:[469,880.7],y:[[51,625],[57,343.7]],ty:348.3,tr:[629,388.3]},
{b:[942,1365,333,634],p:[333,653,1400],x:[940.7,1352],y:[[42,620.3],[49,397.7]],ty:348.3,tr:[1120,394.3]},
{b:[1410,1818,333,632],p:[333,651,1865],x:[1410,1800.7],y:[[110,624.3],[126,349.3]],ty:349,tr:[1519.3,391]},
{b:[1,426,662.7,964],p:[662,978,466],x:[1.7,404.3],y:[[76,957],[82,731.3]],ty:678.3,tr:[224,720]},
{b:[470.7,887.3,665,966],p:[665,978,932],x:[472.3,869.7],y:[[142.5,954],[162.5,671.3]],ty:680.3,tr:[670.7,708.3]},
{b:[942,1365,665.7,966.7],p:[665,978,1400],x:[940.7,1352],y:[[40,929.3],[43,689]],ty:680.7,tr:[1187,722]},
{b:[1408,1826,662,957.7],p:[662,978,1865],x:[1411.7,1811.7],y:[[42,930],[47,689]],ty:677.3,tr:[1599.7,713.3]}];

const FONT="'Liberation Sans',Arial,sans-serif";
const BLUE="#1414ee";
const svg=d3.select("#c");
svg.append("rect").attr("width",1865).attr("height",978).attr("fill","#4b4e55");
const defs=svg.append("defs");

layout.forEach((L,i)=>{
  const [l,r,t,bt]=L.b,[pt,pb,ar]=L.p;
  const g=svg.append("g");
  const pid="pan"+i,cid="plot"+i;
  defs.append("clipPath").attr("id",pid).append("rect").attr("x",l).attr("y",pt).attr("width",ar-l).attr("height",pb-pt);
  defs.append("clipPath").attr("id",cid).append("rect").attr("x",l).attr("y",t).attr("width",r-l).attr("height",bt-t);
  g.attr("clip-path",`url(#${pid})`);
  g.append("rect").attr("x",l).attr("y",pt).attr("width",ar-l).attr("height",pb-pt).attr("fill","#a8a8a8");
  g.append("rect").attr("x",l).attr("y",t).attr("width",r-l).attr("height",bt-t).attr("fill","#fff");

  const data=candleSets[i];
  const xS=d3.scaleLinear().domain([0,data.length-1]).range(L.x);
  const yS=d3.scaleLinear().domain([L.y[0][0],L.y[1][0]]).range([L.y[0][1],L.y[1][1]]);
  const step=(L.x[1]-L.x[0])/(data.length-1), bw=Math.max(2.8,step*.8);

  const yAxis=d3.axisRight(yS).tickValues(tickSets[i]).tickFormat(d3.format(".2f")).tickSize(0).tickPadding(3);
  const ag=g.append("g").attr("transform",`translate(${r},0)`).call(yAxis);
  ag.select(".domain").remove();
  ag.selectAll("text").attr("fill",BLUE).attr("font-family",FONT).attr("font-weight","bold").attr("font-size",11.6);

  const ly=yS(lastPrices[i]);
  g.append("rect").attr("x",r).attr("y",ly-8.7).attr("width",ar-r).attr("height",17.4).attr("fill",lastUp[i]?"#0fd00f":"#f00f12");
  g.append("text").attr("x",r+6).attr("y",ly).attr("dy",".36em").text(lastPrices[i].toFixed(2)).attr("fill","#fff").attr("font-family",FONT).attr("font-weight","bold").attr("font-size",11.6);

  dateLabels[i].forEach(d=>g.append("text").attr("x",xS(d[1])).attr("y",bt+11).attr("dy",".36em").attr("text-anchor","middle").text(d[0]).attr("fill",BLUE).attr("font-family",FONT).attr("font-weight","bold").attr("font-size",11.4));
  g.append("text").attr("x",l+1).attr("y",bt+11).attr("dy",".36em").text("Dyn").attr("fill","#b9bdcc").attr("font-family",FONT).attr("font-weight","bold").attr("font-size",12);
  g.append("rect").attr("x",l+27).attr("y",bt+8).attr("width",10).attr("height",9).attr("rx",1).attr("fill","none").attr("stroke","#b9bdcc").attr("stroke-width",1.4);
  g.append("path").attr("d",`M${l+29} ${bt+8}v-2a3 3 0 0 1 6 0v2`).attr("fill","none").attr("stroke","#b9bdcc").attr("stroke-width",1.2);

  const pg=g.append("g").attr("clip-path",`url(#${cid})`);
  pg.append("text").attr("x",l+2).attr("y",bt-6).attr("dy",".36em").text("© eSignal, 2026").attr("fill","#8c8c8c").attr("font-family",FONT).attr("font-size",10);

  const line=d3.line().x(d=>xS(d[0])).y(d=>yS(d[1])).curve(d3.curveMonotoneX);
  [[redSets[i],"#f01a1a"],[greenSets[i],"#12a412"],[blueSets[i],"#1a1af5"]].forEach(([s,c])=>{
    if(s) pg.append("path").attr("d",line(s)).attr("fill","none").attr("stroke",c).attr("stroke-width",1.2);
  });

  const cg=pg.selectAll("g.cd").data(data).join("g").attr("class","cd");
  cg.append("line").attr("x1",(d,k)=>xS(k)).attr("x2",(d,k)=>xS(k)).attr("y1",d=>yS(d[1])).attr("y2",d=>yS(d[2])).attr("stroke","#555").attr("stroke-width",1);
  cg.each(function(d,k){
    const s=d3.select(this),x=xS(k);
    if(d[0]===d[3]){ s.append("line").attr("x1",x-bw/2).attr("x2",x+bw/2).attr("y1",yS(d[3])).attr("y2",yS(d[3])).attr("stroke","#222").attr("stroke-width",1); }
    else{
      const a=yS(Math.max(d[0],d[3])),b=yS(Math.min(d[0],d[3]));
      s.append("rect").attr("x",x-bw/2).attr("y",a).attr("width",bw).attr("height",Math.max(1.2,b-a)).attr("fill",d[3]>d[0]?"#00c000":"#ff0000").attr("stroke","#333").attr("stroke-width",.5);
    }
  });

  pg.append("text").attr("transform",`translate(${l+(L.tx||4)},${L.ty}) scale(.912,1)`).attr("dy",".36em").text(titles[i]).attr("fill",BLUE).attr("font-family","'Open Sans','Noto Sans',sans-serif").attr("font-weight","bold").attr("font-size",14.6);
  pg.append("text").attr("x",L.tr[0]).attr("y",L.tr[1]).attr("dy",".36em").attr("text-anchor","middle").text(trends[i]).attr("fill",BLUE).attr("font-family",FONT).attr("font-weight","bold").attr("font-size",19);

  const lab=(k,off,txt,col)=>pg.append("text").attr("x",xS(k)).attr("y",yS(off<0?data[k][1]:data[k][2])+off).attr("dy",".36em").attr("text-anchor","middle").text(txt).attr("fill",col).attr("font-family",FONT).attr("font-weight","bold").attr("font-size",10.6).attr("stroke","#fff").attr("stroke-width",1.6).attr("paint-order","stroke").attr("stroke-linejoin","round");
  phSets[i].forEach(k=>lab(k,-6.5,"PH","#ff1c1c"));
  plSets[i].forEach(k=>lab(k,6.5,"PL","#10a410"));

  if(signalIdx[i]!==null){
    const sx=xS(signalIdx[i]),c="#a2c63c";
    pg.append("text").attr("x",sx).attr("y",bt-27).attr("dy",".36em").attr("text-anchor","middle").text("2:1").attr("fill",c).attr("font-family",FONT).attr("font-size",12);
    pg.append("path").attr("d",`M${sx-6} ${bt-18}H${sx+6}V${bt-7}L${sx} ${bt-1}L${sx-6} ${bt-7}Z`).attr("fill","#fff").attr("stroke",c).attr("stroke-width",1.2);
    pg.append("text").attr("x",sx).attr("y",bt-11).attr("dy",".36em").attr("text-anchor","middle").text("S").attr("fill",c).attr("font-family",FONT).attr("font-size",9);
  }
});
svg.append("rect").attr("x",1408.5).attr("y",326).attr("width",470).attr("height",325.5).attr("fill","none").attr("stroke","#0b90cf").attr("stroke-width",3);
</script></body></html>
